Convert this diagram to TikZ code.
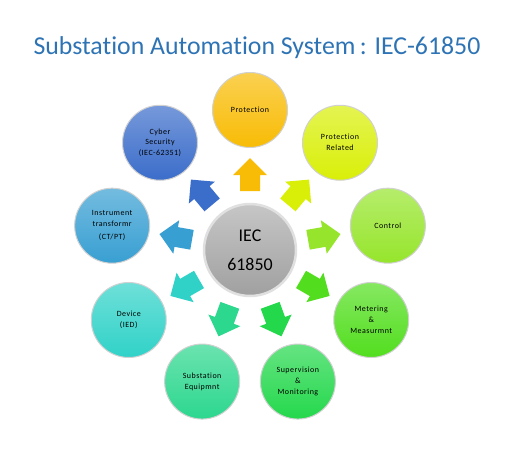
\documentclass[tikz,border=0pt]{standalone}
\usepackage{fontspec}
\setmainfont{Carlito}[Ligatures=NoCommon]
\usetikzlibrary{calc}
\definecolor{titleblue}{HTML}{2E74B5}
\definecolor{cprot}{HTML}{F8BC06}
\definecolor{cprotrel}{HTML}{D9EF08}
\definecolor{cctrl}{HTML}{96E52C}
\definecolor{cmeter}{HTML}{52DE1E}
\definecolor{csuperv}{HTML}{24D84C}
\definecolor{csubst}{HTML}{2CD78E}
\definecolor{cdevice}{HTML}{30D2C8}
\definecolor{cinstr}{HTML}{389FD2}
\definecolor{ccyber}{HTML}{3B6DCA}
\definecolor{chub}{HTML}{A0A0A0}
\tikzset{
  ball/.style={circle, minimum size=75bp, inner sep=0pt, draw=white!82!black,
    line width=1bp, top color=#1!70!white, bottom color=#1, align=center,
    font=\fontsize{8}{11}\selectfont\addfontfeatures{LetterSpace=6}, text=black},
  hubball/.style={circle, minimum size=92bp, inner sep=0pt, draw=white!88!black,
    line width=2.5bp, top color=chub!60!white, bottom color=chub, align=center,
    font=\fontsize{18}{29}\selectfont, text=black},
  blockarrow/.style={fill=#1}
}
\begin{document}
\begin{tikzpicture}[x=1bp,y=1bp]
\useasboundingbox (0,0) rectangle (516,-459);
\node[font=\fontsize{25.9}{29}\selectfont, text=titleblue] (title) at (257,-48) {Substation Automation System\hspace{-1.5bp} : IEC-61850};
\node[hubball] (hub) at (250,-250) {IEC\\61850};
\foreach \nm/\ang/\col/\txt in {
  prot/90/cprot/{Protection},
  protrel/50/cprotrel/{Protection\\Related},
  ctrl/10/cctrl/{Control},
  meter/-30/cmeter/{Metering\\\&\\Measurmnt},
  superv/-70/csuperv/{Supervision\\\&\\Monitoring},
  subst/-110/csubst/{Substation\\Equipmnt},
  device/-150/cdevice/{Device\\(IED)},
  instr/170/cinstr/{Instrument\\transformr\\[2bp](CT/PT)},
  cyber/130/ccyber/{Cyber\\Security\\(IEC-62351)}}{
  \node[ball=\col] (\nm) at ($(hub)+(\ang:140)$) {\txt};
  \coordinate (a\nm) at ($(hub)!0.535!(\nm)$);
  \fill[blockarrow=\col, shift={(a\nm)}, rotate=\ang]
    (-16,-10) -- (0,-10) -- (0,-17) -- (17,0) -- (0,17) -- (0,10) -- (-16,10) -- cycle;
}
\end{tikzpicture}
\end{document}
